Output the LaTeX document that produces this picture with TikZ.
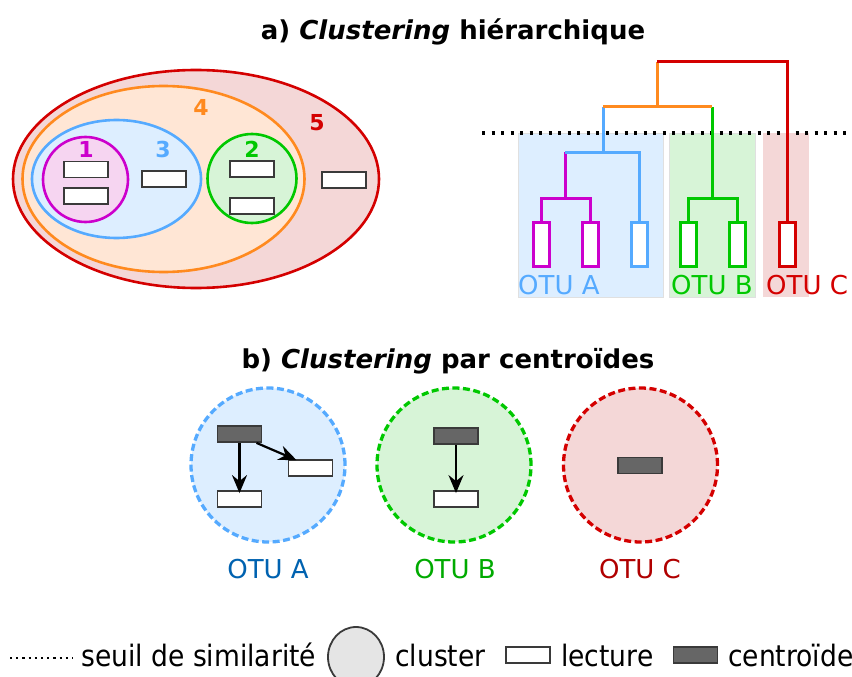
\documentclass[tikz,border=0pt]{standalone}
\usepackage{fontspec}
\setmainfont{DejaVu Sans}
\newfontfamily\legfont{DejaVu Sans}[FakeStretch=0.9]
\usetikzlibrary{arrows.meta,shapes.geometric}
\definecolor{cred}{HTML}{D40000}
\definecolor{fred}{HTML}{F4D7D7}
\definecolor{corange}{HTML}{FF8A1F}
\definecolor{forange}{HTML}{FFE6D5}
\definecolor{cblue}{HTML}{55AAFF}
\definecolor{fblue}{HTML}{DDEEFF}
\definecolor{cmag}{HTML}{CC00CC}
\definecolor{fmag}{HTML}{F6D5F1}
\definecolor{cgreen}{HTML}{00C800}
\definecolor{fgreen}{HTML}{D7F4D7}
\definecolor{tblue}{HTML}{0062B0}
\definecolor{tgreen}{HTML}{00AA00}
\definecolor{tred}{HTML}{B00000}
\definecolor{rdgray}{HTML}{3A3A3A}
\definecolor{cgray}{HTML}{666666}
\begin{document}
\begin{tikzpicture}[x=1pt,y=-1pt,
  readbox/.style={rectangle,draw=rdgray,fill=white,line width=1.8pt,minimum width=44pt,minimum height=16pt,inner sep=0pt},
  centbox/.style={rectangle,draw=rdgray,fill=cgray,line width=1.8pt,minimum width=44pt,minimum height=16pt,inner sep=0pt},
  leafbox/.style={rectangle,fill=white,line width=3pt,minimum width=16pt,minimum height=44pt,inner sep=0pt},
  venn/.style={line width=2.6pt},
  dendro/.style={line width=3pt,line join=miter},
  digit/.style={font=\fontsize{22}{24}\selectfont\bfseries,inner sep=0pt},
  otu/.style={font=\fontsize{26}{30}\selectfont,inner sep=0pt},
  ttl/.style={font=\fontsize{26}{30}\selectfont\bfseries,inner sep=0pt},
  leg/.style={font=\legfont\fontsize{29.5}{34}\selectfont,inner sep=0pt},
  clus/.style={line width=3.3pt,dash pattern=on 7pt off 3.5pt},
  arr/.style={line width=2.2pt,-{Stealth[length=18pt,width=15pt,inset=6pt]}},
  otubg/.style={draw=black!12,line width=0.8pt}
]
\useasboundingbox (0,0) rectangle (852,677);

% ---------- titles
\node[ttl,anchor=base] (ta) at (453,40) {a) \textit{Clustering} hiérarchique};
\node[ttl,anchor=base] (tb) at (448,368) {b) \textit{Clustering} par centroïdes};

% ---------- Venn diagram
\draw[venn,draw=cred,fill=fred] (196,179) ellipse [x radius=183pt, y radius=109pt];
\draw[venn,draw=corange,fill=forange] (163.5,179) ellipse [x radius=141pt, y radius=93pt];
\draw[venn,draw=cblue,fill=fblue] (116.5,179) ellipse [x radius=84.5pt, y radius=59pt];
\draw[venn,draw=cmag,fill=fmag] (85.5,179.5) circle [radius=42.5pt];
\draw[venn,draw=cgreen,fill=fgreen] (252,178.5) circle [radius=44.5pt];
\node[digit,text=cmag] (d1) at (86,149) {1};
\node[digit,text=cblue] (d3) at (163,149) {3};
\node[digit,text=cgreen] (d2) at (252,149) {2};
\node[digit,text=corange] (d4) at (201,107) {4};
\node[digit,text=cred] (d5) at (317,123) {5};
\node[readbox] (v1) at (86,169.5) {};
\node[readbox] (v2) at (86,196) {};
\node[readbox] (v3) at (164,179) {};
\node[readbox] (v4) at (252,169) {};
\node[readbox] (v5) at (252,206) {};
\node[readbox] (v6) at (344,180) {};

% ---------- dendrogram backgrounds
\path[otubg,fill=fblue] (518,133) rectangle (663,297);
\path[otubg,fill=fgreen] (669,133) rectangle (755,297);
\fill[fred] (763,133) rectangle (809,297);
\coordinate (th1) at (482,133);
\coordinate (th2) at (850,133);
\draw[line width=3.3pt,dash pattern=on 3.3pt off 6.2pt] (th1) -- (th2);

% leaves
\node[leafbox,draw=cmag] (l1) at (541,244) {};
\node[leafbox,draw=cmag] (l2) at (590,244) {};
\node[leafbox,draw=cblue] (l3) at (639,244) {};
\node[leafbox,draw=cgreen] (l4) at (688,244) {};
\node[leafbox,draw=cgreen] (l5) at (737,244) {};
\node[leafbox,draw=cred] (l6) at (787,244) {};
\coordinate (j1) at (565,198);
\coordinate (k1) at (565,152);
\coordinate (b1) at (603,152);
\coordinate (o1) at (603,107);
\coordinate (j2) at (712,198);
\coordinate (o2) at (712,107);
\coordinate (t0) at (657,107);
\coordinate (r0) at (657,62);
\draw[dendro,cmag] (l1.north) |- (j1) -| (l2.north);
\draw[dendro,cmag] (j1) -- (k1);
\draw[dendro,cblue] (k1) -| (l3.north);
\draw[dendro,cblue] (b1) -- (o1);
\draw[dendro,cgreen] (l4.north) |- (j2) -| (l5.north);
\draw[dendro,cgreen] (j2) -- (o2);
\draw[dendro,corange] (o1) -- (o2);
\draw[dendro,corange] (t0) -- (r0);
\draw[dendro,cred] (r0) -| (l6.north);

\node[otu,text=cblue,anchor=base west] (oa) at (518,294) {OTU A};
\node[otu,text=cgreen,anchor=base west] (ob) at (671,294) {OTU B};
\node[otu,text=cred,anchor=base west] (oc) at (766,294) {OTU C};

% ---------- centroid clustering
\draw[clus,draw=cblue,fill=fblue] (268,465) circle [radius=77pt];
\draw[clus,draw=cgreen,fill=fgreen] (454,465) circle [radius=77pt];
\draw[clus,draw=cred,fill=fred] (640.5,465) circle [radius=77pt];

\node[centbox] (cA) at (239.5,434) {};
\node[readbox] (rA1) at (310.5,468) {};
\node[readbox] (rA2) at (239.5,499) {};
\draw[arr] (cA.south) -- ([yshift=-3pt]rA2.north);
\draw[arr] ([xshift=17pt]cA.south) -- ([xshift=-14pt,yshift=-1pt]rA1.north);

\node[centbox] (cB) at (456,436) {};
\node[readbox] (rB) at (456,499) {};
\draw[arr] (cB.south) -- ([yshift=-3pt]rB.north);

\node[centbox] (cC) at (640,465.5) {};

\node[otu,text=tblue,anchor=base] (ba) at (268,578) {OTU A};
\node[otu,text=tgreen,anchor=base] (bb) at (455,578) {OTU B};
\node[otu,text=tred,anchor=base] (bc) at (640,578) {OTU C};

% ---------- legend
\coordinate (lg1) at (10,658);
\coordinate (lg2) at (73,658);
\draw[line width=2.5pt,dash pattern=on 2.2pt off 4pt] (lg1) -- (lg2);
\node[leg,anchor=base west] (lt1) at (81,666) {seuil de similarité};
\draw[line width=1.8pt,draw=rdgray,fill=black!10] (356,657) ellipse [x radius=28pt, y radius=30pt];
\node[leg,anchor=base west] (lt2) at (395,666) {cluster};
\node[readbox] (lr) at (528,655) {};
\node[leg,anchor=base west] (lt3) at (561,666) {lecture};
\node[centbox] (lc) at (695.5,655) {};
\node[leg,anchor=base west] (lt4) at (728,666) {centroïde};
\end{tikzpicture}
\end{document}
